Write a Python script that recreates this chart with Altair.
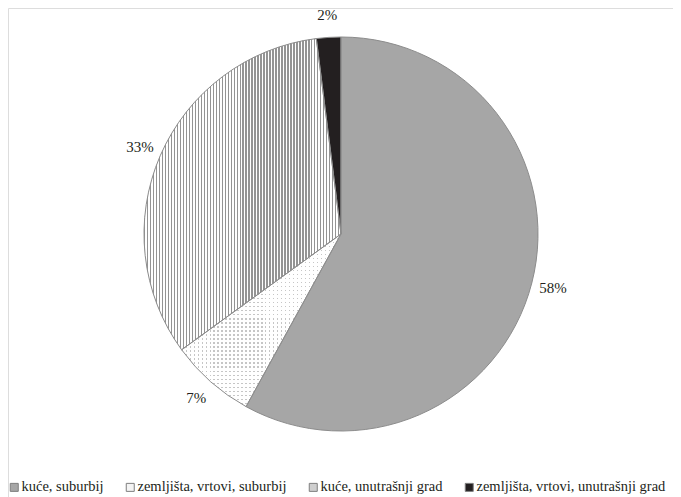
import math
import altair as alt
import pandas as pd

# ---- data ----
categories = ["kuće, suburbij", "zemljišta, vrtovi, suburbij",
              "kuće, unutrašnji grad", "zemljišta, vrtovi, unutrašnji grad"]
values = [58, 7, 33, 2]
labels = ["58%", "7%", "33%", "2%"]

df = pd.DataFrame({"cat": categories, "value": values, "label": labels,
                   "order": list(range(len(categories)))})

# ---- styling ----
CX, CY, R = 333, 226, 197
FONT = "Liberation Serif"
legend_colors = ["#a6a6a6", "#f4f4f4", "#cfcfcf", "#231f20"]


def stripes(n, on, off, frac):
    stops = []
    for i in range(n):
        a, b, c = i / n, (i + frac) / n, (i + 1) / n
        stops += [{"offset": round(a, 5), "color": on},
                  {"offset": round(b, 5), "color": on},
                  {"offset": round(b, 5), "color": off},
                  {"offset": round(c, 5), "color": off}]
    return stops


vstripe = {"gradient": "linear", "x1": 0, "y1": 0, "x2": 1, "y2": 0,
           "stops": stripes(66, "#949494", "#ffffff", 0.45)}
dot_rows = {"gradient": "linear", "x1": 0, "y1": 0, "x2": 0, "y2": 1,
            "stops": stripes(43, "#c6c6c6", "#ffffff", 0.3)}
dot_cols = {"gradient": "linear", "x1": 0, "y1": 0, "x2": 1, "y2": 0,
            "stops": stripes(40, "rgba(255,255,255,0)", "#ffffff", 0.3)}

theta_scale = alt.Scale(domain=[0, 100], range=[0, 2 * math.pi])

base = alt.Chart(df).transform_window(
    cum="sum(value)", sort=[alt.SortField("order")], frame=[None, 0]
).transform_calculate(
    start="datum.cum - datum.value",
    mid="datum.cum - datum.value / 2",
)

pos = dict(
    theta=alt.Theta("start:Q", scale=theta_scale),
    theta2="cum:Q",
    x=alt.value(CX),
    y=alt.value(CY),
)

pie = base.mark_arc(radius=R).encode(
    fill=alt.Fill(
        "cat:N",
        scale=alt.Scale(domain=categories, range=legend_colors),
        sort=categories,
        legend=alt.Legend(
            title=None, orient="none", legendX=-1, legendY=472,
            direction="horizontal", columns=4, symbolType="square",
            symbolSize=64, symbolStrokeColor="#7f7f7f", symbolStrokeWidth=1,
            labelFont=FONT, labelFontSize=14.5, labelColor="#231f20",
            labelOffset=0, columnPadding=19, padding=0, labelLimit=400,
        ),
    ),
    **pos,
)

striped = base.transform_filter(alt.datum.cat == categories[2]).mark_arc(
    radius=R, fill=vstripe).encode(**pos)
rows = base.transform_filter(alt.datum.cat == categories[1]).mark_arc(
    radius=R, fill=dot_rows).encode(**pos)
cols = base.transform_filter(alt.datum.cat == categories[1]).mark_arc(
    radius=R, fill=dot_cols).encode(**pos)

outline = base.mark_arc(radius=R, fill="transparent", stroke="#8c8c8c",
                        strokeWidth=1).encode(**pos)

text = base.mark_text(radius=219, font=FONT, fontSize=15, color="#231f20",
                      align="center", baseline="middle").encode(
    theta=alt.Theta("mid:Q", scale=theta_scale),
    x=alt.value(CX),
    y=alt.value(CY),
    text="label:N",
)

chart = alt.layer(pie, striped, rows, cols, outline, text).properties(
    width=665, height=489, padding=0,
    autosize=alt.AutoSizeParams(type="none"),
).configure_view(stroke=None).configure(background="white")

chart.save("out.html", embed_options={"renderer": "svg", "actions": False})
